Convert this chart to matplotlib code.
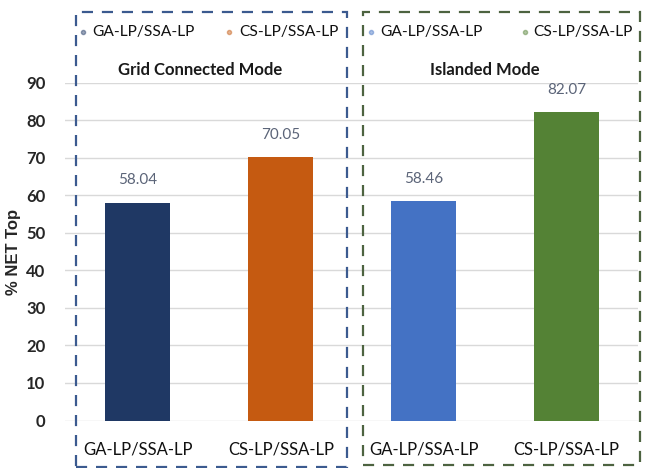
import matplotlib
matplotlib.use("Agg")
import matplotlib.pyplot as plt
from matplotlib.patches import Rectangle
from matplotlib.lines import Line2D

# Data
categories = ["GA-LP/SSA-LP", "CS-LP/SSA-LP", "GA-LP/SSA-LP", "CS-LP/SSA-LP"]
values = [58.04, 70.05, 58.46, 82.07]
bar_colors = ["#1f3864", "#c55a11", "#4472c4", "#548235"]
modes = ["Grid Connected Mode", "Islanded Mode"]
yticks = [0, 10, 20, 30, 40, 50, 60, 70, 80, 90]

plt.rcParams["font.family"] = ["Lato", "DejaVu Sans"]

W, H = 652, 468
fig = plt.figure(figsize=(W / 100, H / 100), dpi=100)
fig.patch.set_facecolor("white")

def fx(px):
    return px / W

def fy(py):
    return 1 - py / H

ax = fig.add_axes([fx(65), fy(420.5), fx(638) - fx(65), fy(82.5) - fy(420.5)])
x = list(range(len(values)))
bars = ax.bar(x, values, width=0.455, color=bar_colors, zorder=3)
ax.bar_label(bars, labels=[f"{v:.2f}" for v in values], padding=11,
             fontsize=11, color="#5b6478")

ax.set_xlim(-0.51, 3.5)
ax.set_ylim(0, 90)
ax.set_yticks(yticks)
ax.set_yticklabels([str(t) for t in yticks], fontsize=12, fontweight="bold",
                   color="#262626")
ax.set_xticks(x)
ax.set_xticklabels(categories, fontsize=12, color="#111111")
ax.tick_params(axis="both", length=0)
ax.tick_params(axis="y", pad=14)
ax.tick_params(axis="x", pad=15)
ax.yaxis.grid(True, color="#d9d9d9", linewidth=1.0, zorder=0)
ax.set_axisbelow(True)
for s in ax.spines.values():
    s.set_visible(False)
ax.set_ylabel("% NET Top", fontsize=12, fontweight="bold",
              family="Liberation Sans", color="#262626", labelpad=4)

# Dashed frames around the two operating modes
frame_specs = [
    (76, 12, 347, 467, "#3b5a8f"),
    (363, 12, 640, 465, "#4d6340"),
]
for x0, y0, x1, y1, col in frame_specs:
    fig.patches.append(Rectangle((fx(x0), fy(y1)), fx(x1) - fx(x0), fy(y0) - fy(y1),
                                 transform=fig.transFigure, fill=False,
                                 edgecolor=col, linewidth=1.6,
                                 linestyle=(0, (5, 4)), clip_on=False))

# Legend entries for each mode: (marker x, text x) in pixels
legend_pos = [(83, 92), (229, 239), (371, 380), (525, 533)]
for (mx, tx), col, lab in zip(legend_pos, bar_colors, categories):
    fig.add_artist(Line2D([fx(mx)], [fy(32)], transform=fig.transFigure,
                          linestyle="none", marker="o", markersize=3,
                          color=col, alpha=0.45))
    fig.text(fx(tx), fy(32), lab, ha="left", va="center", fontsize=11.2,
             color="#111111")

# Mode titles
fig.text(fx(200), fy(70), modes[0], ha="center", va="center", fontsize=12,
         fontweight="bold", color="#1a1a1a")
fig.text(fx(485), fy(70), modes[1], ha="center", va="center", fontsize=12,
         fontweight="bold", color="#1a1a1a")

fig.savefig("out.png", dpi=100)
